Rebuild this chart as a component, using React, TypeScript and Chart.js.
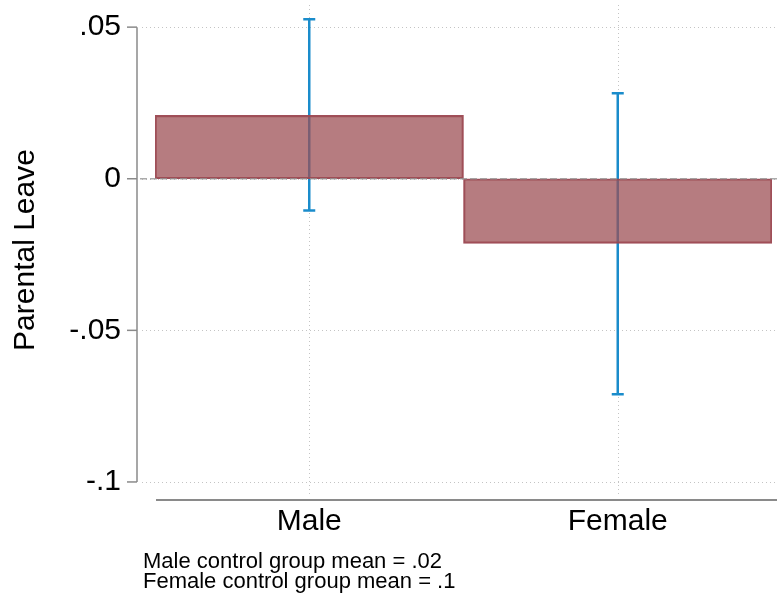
import React, { useEffect, useRef } from "react";
import { Chart, registerables } from "chart.js";

Chart.register(...registerables);

const categories = ["Male", "Female"];
const estimates = [0.0209, -0.0213];
const ciLow = [-0.0105, -0.0711];
const ciHigh = [0.0526, 0.0282];
const yTicks = [-0.1, -0.05, 0, 0.05];
const yTickLabels = ["-.1", "-.05", "0", ".05"];
const yAxisTitle = "Parental Leave";
const notes = ["Male control group mean = .02", "Female control group mean = .1"];

const FONT = "'Liberation Sans', Arial, Helvetica, sans-serif";

const customPlugin = {
  id: "stataLook",
  beforeDatasetsDraw(chart: any) {
    const { ctx, chartArea, scales } = chart;
    const x = scales.x;
    const y = scales.y;
    ctx.save();
    // dotted grid lines
    ctx.strokeStyle = "#c4c4c4";
    ctx.lineWidth = 1;
    ctx.setLineDash([1, 3]);
    yTicks.forEach((v) => {
      const py = Math.round(y.getPixelForValue(v)) + 0.5;
      ctx.beginPath();
      ctx.moveTo(chartArea.left - 13, py);
      ctx.lineTo(chartArea.right + 5, py);
      ctx.stroke();
    });
    categories.forEach((_, i) => {
      const px = Math.round(x.getPixelForValue(i)) + 0.5;
      ctx.beginPath();
      ctx.moveTo(px, chartArea.top);
      ctx.lineTo(px, chartArea.bottom);
      ctx.stroke();
    });
    ctx.setLineDash([]);
    // y axis line and ticks
    ctx.strokeStyle = "#8a8a8a";
    ctx.lineWidth = 1.5;
    const axX = chartArea.left - 18;
    const yTop = y.getPixelForValue(Math.max(...yTicks));
    const yBot = y.getPixelForValue(Math.min(...yTicks));
    ctx.beginPath();
    ctx.moveTo(axX, yTop);
    ctx.lineTo(axX, yBot);
    ctx.stroke();
    yTicks.forEach((v) => {
      const py = y.getPixelForValue(v);
      ctx.beginPath();
      ctx.moveTo(axX - 10, py);
      ctx.lineTo(axX, py);
      ctx.stroke();
    });
    // x axis line
    ctx.lineWidth = 2;
    ctx.beginPath();
    ctx.moveTo(chartArea.left + 1, chartArea.bottom + 5);
    ctx.lineTo(chartArea.right + 5, chartArea.bottom + 5);
    ctx.stroke();
    // error bars
    ctx.strokeStyle = "#1a8ccb";
    ctx.lineWidth = 2.5;
    categories.forEach((_, i) => {
      const px = x.getPixelForValue(i);
      const lo = y.getPixelForValue(ciLow[i]);
      const hi = y.getPixelForValue(ciHigh[i]);
      ctx.beginPath();
      ctx.moveTo(px, lo);
      ctx.lineTo(px, hi);
      ctx.moveTo(px - 6, lo);
      ctx.lineTo(px + 6, lo);
      ctx.moveTo(px - 6, hi);
      ctx.lineTo(px + 6, hi);
      ctx.stroke();
    });
    ctx.restore();
  },
  afterDatasetsDraw(chart: any) {
    const { ctx, chartArea, scales } = chart;
    const y = scales.y;
    ctx.save();
    ctx.strokeStyle = "rgba(150,150,150,0.8)";
    ctx.lineWidth = 1.5;
    ctx.setLineDash([7, 3]);
    const py = y.getPixelForValue(0);
    ctx.beginPath();
    ctx.moveTo(chartArea.left - 15, py);
    ctx.lineTo(chart.width, py);
    ctx.stroke();
    ctx.setLineDash([]);
    // notes
    ctx.fillStyle = "#000";
    ctx.font = `22px ${FONT}`;
    ctx.textAlign = "left";
    ctx.textBaseline = "alphabetic";
    notes.forEach((t, i) => {
      ctx.fillText(t, chartArea.left - 12, chartArea.bottom + 73 + i * 20);
    });
    ctx.restore();
  },
};

export default function App() {
  const ref = useRef<HTMLCanvasElement | null>(null);
  useEffect(() => {
    if (!ref.current) return;
    const chart = new Chart(ref.current, {
      type: "bar",
      data: {
        labels: categories,
        datasets: [
          {
            data: estimates,
            backgroundColor: "rgba(156,78,83,0.74)",
            borderColor: "rgba(155,70,80,0.95)",
            borderWidth: 1.5,
            borderSkipped: false,
            barPercentage: 1,
            categoryPercentage: 1,
          },
        ],
      },
      options: {
        responsive: false,
        animation: false,
        layout: { padding: { top: 5, right: 7, bottom: 0, left: 0 } },
        plugins: {
          legend: { display: false },
          tooltip: { enabled: false },
          title: { display: false },
        },
        scales: {
          x: {
            type: "category",
            grid: { display: false, drawTicks: false },
            border: { display: false },
            ticks: {
              color: "#000",
              padding: 9,
              font: { family: FONT, size: 30 },
              maxRotation: 0,
            },
            afterFit(scale: any) {
              scale.height = 102;
              scale.paddingLeft = 0;
              scale.paddingRight = 0;
            },
          },
          y: {
            min: -0.1043,
            max: 0.0573,
            grid: { display: false, drawTicks: false },
            border: { display: false },
            afterBuildTicks(scale: any) {
              scale.ticks = yTicks.map((v) => ({ value: v }));
            },
            ticks: {
              color: "#000",
              padding: 34,
              font: { family: FONT, size: 30 },
              callback: (v: any) => {
                const idx = yTicks.findIndex((t) => Math.abs(t - Number(v)) < 1e-9);
                return idx >= 0 ? yTickLabels[idx] : "";
              },
            },
            title: {
              display: true,
              text: yAxisTitle,
              color: "#000",
              font: { family: FONT, size: 30 },
              padding: { top: 8, bottom: 0 },
            },
            afterFit(scale: any) {
              scale.width = 155;
              scale.paddingTop = 0;
              scale.paddingBottom = 0;
            },
          },
        },
      },
      plugins: [customPlugin],
    });
    return () => chart.destroy();
  }, []);
  return (
    <div style={{ position: "fixed", left: 0, top: 0, width: 779, height: 597, background: "#fff" }}>
      <canvas ref={ref} width={779} height={597} style={{ width: 779, height: 597, display: "block" }} />
    </div>
  );
}
